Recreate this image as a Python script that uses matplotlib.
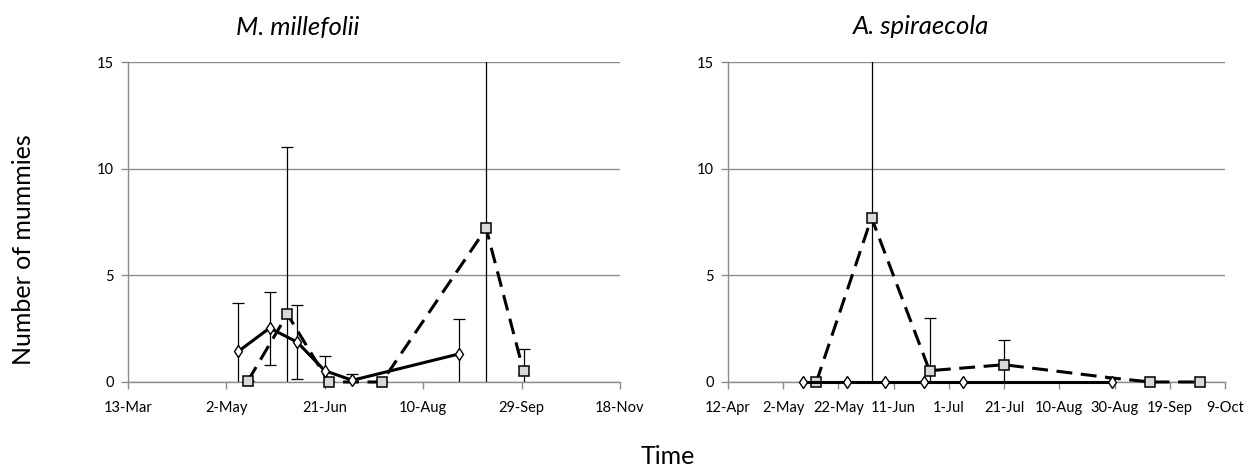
import numpy as np
import pandas as pd
import matplotlib
matplotlib.use('Agg')
from matplotlib import pyplot as plt
import matplotlib.dates as mdates

# M. millefolii (left panel)
mill_solid_dates = ['2011-05-08', '2011-05-24', '2011-06-07', '2011-06-21', '2011-07-05', '2011-08-28']
mill_solid_vals = [1.43, 2.53, 1.87, 0.53, 0.08, 1.31]
mill_solid_err = [2.27, 1.71, 1.75, 0.70, 0.29, 1.65]

mill_dash_dates = ['2011-05-13', '2011-06-02', '2011-06-23', '2011-07-20', '2011-09-11', '2011-09-30']
mill_dash_vals = [0.06, 3.18, 0.0, 0.0, 7.2, 0.5]
mill_dash_err = [0.0, 7.84, 0.0, 0.0, 9.5, 1.04]

# A. spiraecola (right panel)
spir_solid_dates = ['2011-05-09', '2011-05-25', '2011-06-08', '2011-06-22', '2011-07-06', '2011-08-29']
spir_solid_vals = [0, 0, 0, 0, 0, 0]

spir_dash_dates = ['2011-05-14', '2011-06-03', '2011-06-24', '2011-07-21', '2011-08-29', '2011-09-12', '2011-09-30']
spir_dash_vals = [0.0, 7.7, 0.53, 0.81, 0.19, 0.0, 0.0]
spir_dash_err = [0.0, 9.0, 2.45, 1.17, 0.0, 0.0, 0.0]
spir_dash_marked = [0, 1, 2, 3, 5, 6]

titles = ['M. millefolii', 'A. spiraecola']
x_ranges = [('2011-03-13', '2011-11-18', 50), ('2011-04-12', '2011-10-09', 20)]
y_ticks = [0, 5, 10, 15]

GRID = '#8c8c8c'
plt.rcParams['font.family'] = ['Lato', 'DejaVu Sans']


def to_dates(lst):
    return pd.to_datetime(lst).to_pydatetime()


def style_axes(ax, xr):
    start, end, step = xr
    t0 = pd.Timestamp(start)
    t1 = pd.Timestamp(end)
    ticks = pd.date_range(t0, t1, freq='%dD' % step).to_pydatetime()
    ax.set_xlim(t0, t1)
    ax.set_ylim(0, 15)
    ax.set_xticks(ticks)
    ax.xaxis.set_major_formatter(mdates.DateFormatter('%-d-%b'))
    ax.set_yticks(y_ticks)
    ax.yaxis.grid(True, color=GRID, lw=1)
    ax.set_axisbelow(True)
    for s in ['top', 'right']:
        ax.spines[s].set_visible(False)
    for s in ['left', 'bottom']:
        ax.spines[s].set_color(GRID)
        ax.spines[s].set_linewidth(1)
    ax.tick_params(axis='both', colors=GRID, labelcolor='black', labelsize=10.5,
                   length=5, width=1, direction='out')
    ax.tick_params(axis='x', pad=9)
    ax.tick_params(axis='y', pad=5)


def draw_series(ax, dates, vals, err=None, dashed=False, markevery=None):
    d = to_dates(dates)
    if err is not None:
        ax.errorbar(d, vals, yerr=err, fmt='none', ecolor='black', elinewidth=0.9,
                    capsize=4, capthick=0.9, zorder=2)
    if dashed:
        ax.plot(d, vals, color='black', lw=2.2, dashes=(5.2, 2.8), marker='s',
                markersize=6.5, markerfacecolor='#d9d9d9', markeredgecolor='black',
                markeredgewidth=1.1, markevery=markevery, clip_on=False, zorder=3)
    else:
        ax.plot(d, vals, color='black', lw=2.2, marker='d', markersize=6.5,
                markerfacecolor='white', markeredgecolor='black',
                markeredgewidth=1.0, clip_on=False, zorder=4)


fig = plt.figure(figsize=(12.56, 4.73), dpi=100)
ax1 = fig.add_axes([0.1019, 0.1924, 0.3917, 0.6765])
ax2 = fig.add_axes([0.5796, 0.1924, 0.3957, 0.6765])

style_axes(ax1, x_ranges[0])
draw_series(ax1, mill_solid_dates, mill_solid_vals, mill_solid_err)
draw_series(ax1, mill_dash_dates, mill_dash_vals, mill_dash_err, dashed=True)

style_axes(ax2, x_ranges[1])
draw_series(ax2, spir_solid_dates, spir_solid_vals)
draw_series(ax2, spir_dash_dates, spir_dash_vals, spir_dash_err, dashed=True,
            markevery=spir_dash_marked)

fig.text(298 / 1256, 1 - 27 / 473, titles[0], fontsize=18.5, style='italic',
         ha='center', va='center')
fig.text(921 / 1256, 1 - 27 / 473, titles[1], fontsize=18.5, style='italic',
         ha='center', va='center')
fig.text(24 / 1256, 1 - 250 / 473, 'Number of mummies', fontsize=18,
         rotation=90, ha='center', va='center')
fig.text(668 / 1256, 1 - 456 / 473, 'Time', fontsize=18, ha='center', va='center')

fig.savefig('out.png', dpi=100)
